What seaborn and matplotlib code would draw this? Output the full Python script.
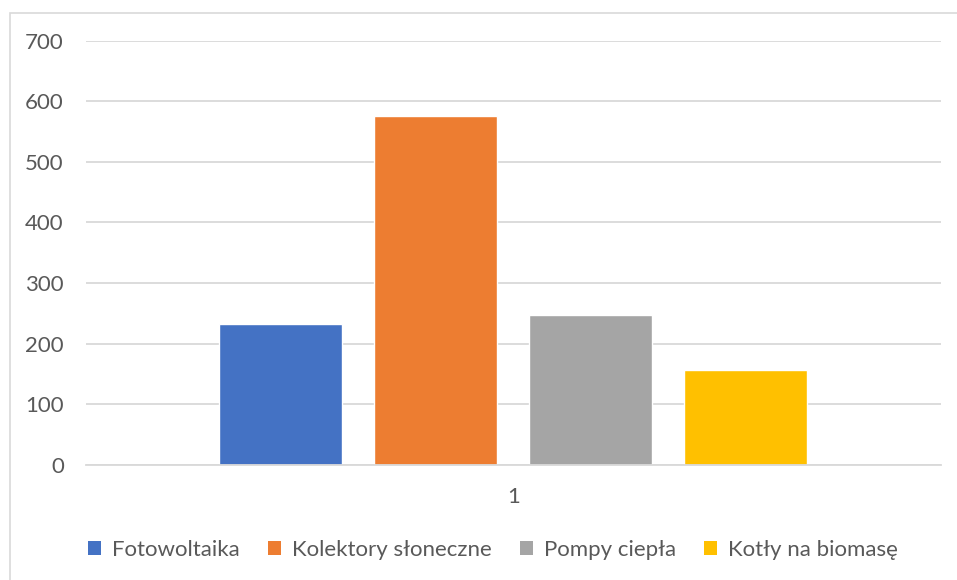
import matplotlib
matplotlib.use("Agg")
import matplotlib.pyplot as plt
import seaborn as sns
import pandas as pd
from matplotlib.patches import Rectangle, Patch

categories = ["1"]
series = ["Fotowoltaika", "Kolektory słoneczne", "Pompy ciepła", "Kotły na biomasę"]
values = [232, 575, 247, 156]
colors = ["#4472C4", "#ED7D31", "#A5A5A5", "#FFC000"]
yticks = [0, 100, 200, 300, 400, 500, 600, 700]

sns.set_theme(style="white")
plt.rcParams['font.family'] = ['Lato', 'DejaVu Sans']

W, H = 957, 580
fig = plt.figure(figsize=(W / 100, H / 100), dpi=100)
ax = fig.add_axes([86 / W, 1 - 464.8 / H, (940.5 - 86) / W, (464.8 - 40.7) / H])

df = pd.DataFrame({"cat": categories * len(series), "series": series, "value": values})
sns.barplot(data=df, x="cat", y="value", hue="series", hue_order=series,
            palette=colors, saturation=1, width=0.726, gap=0.207,
            ax=ax, legend=False, errorbar=None)

ax.set_ylim(0, 700)
ax.set_xlim(-0.5, 0.5)
ax.set_yticks(yticks)
ax.set_yticklabels([str(v) for v in yticks])
ax.yaxis.grid(True, color="#D9D9D9", linewidth=1.3)
ax.set_axisbelow(True)
for s in ["top", "right", "left"]:
    ax.spines[s].set_visible(False)
ax.spines["bottom"].set_color("#D9D9D9")
ax.spines["bottom"].set_linewidth(1.3)
ax.tick_params(axis="y", length=0, pad=16, labelsize=16, labelcolor="#595959")
ax.tick_params(axis="x", length=0, pad=16, labelsize=16, labelcolor="#595959")
ax.set_xlabel("")
ax.set_ylabel("")

# chart frame
fig.patches.append(Rectangle((9.5 / W, -0.5), 2, 0.5 + 1 - 12.5 / H,
                             transform=fig.transFigure, fill=False,
                             edgecolor="#D9D9D9", linewidth=1.2))

handles = [Patch(facecolor=c, edgecolor="none") for c in colors]
fig.legend(handles, series, loc="center", bbox_to_anchor=(493 / W, 1 - 550 / H),
           ncol=4, frameon=False, fontsize=16, labelcolor="#595959",
           handlelength=0.6, handleheight=0.6, handletextpad=0.5,
           columnspacing=1.25)

fig.savefig("out.png", dpi=100)
